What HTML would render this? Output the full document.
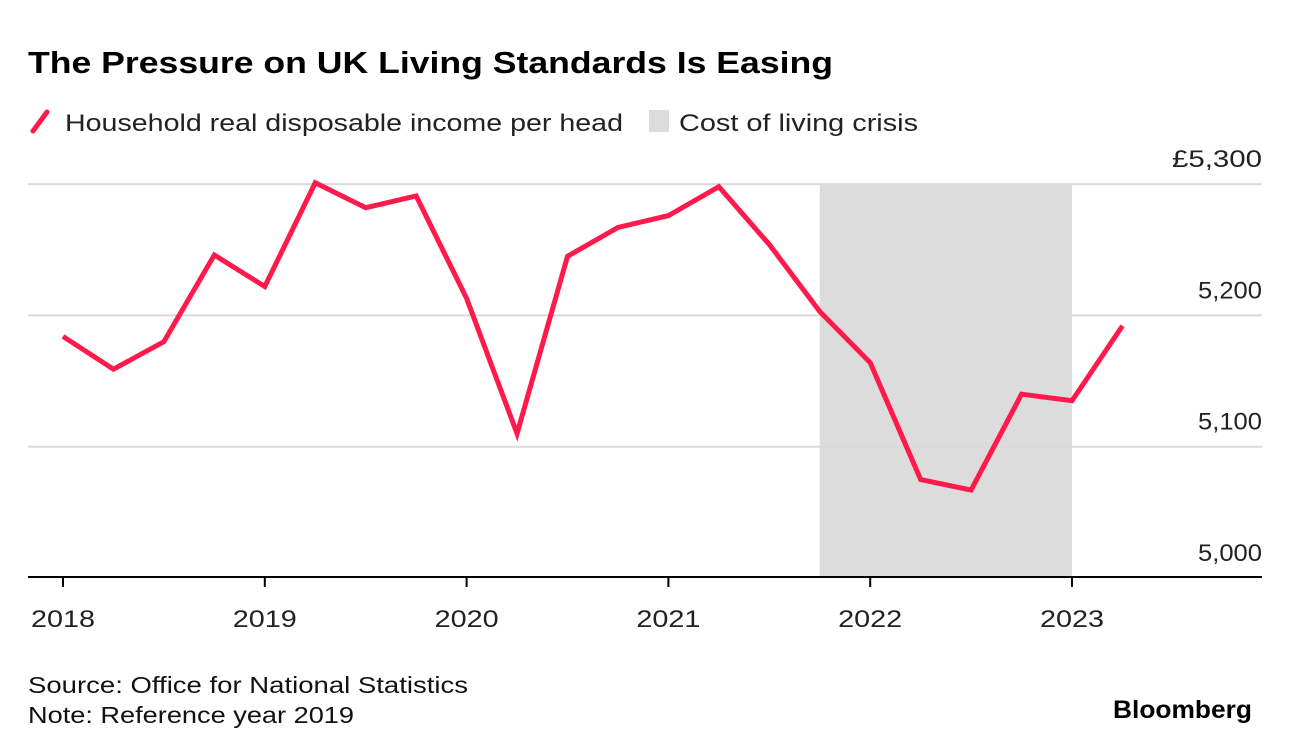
<!DOCTYPE html>
<html><head><meta charset="utf-8"><style>
body{margin:0;background:#fff;width:1292px;height:754px;overflow:hidden;font-family:"Liberation Sans",Arial,sans-serif}
svg{display:block}
</style></head><body>
<svg id="c" width="1292" height="754">
<text x="28" y="73" font-size="31" font-weight="bold" fill="#000" textLength="805" lengthAdjust="spacingAndGlyphs">The Pressure on UK Living Standards Is Easing</text>
<g>
<line x1="33" y1="131" x2="47" y2="112" stroke="#ff1a4b" stroke-width="5" stroke-linecap="round"/>
<text x="65" y="131" font-size="24" fill="#222" textLength="558" lengthAdjust="spacingAndGlyphs">Household real disposable income per head</text>
<rect x="649" y="110" width="20" height="22" fill="#dcdcdc"/>
<text x="679" y="131" font-size="24" fill="#222" textLength="239" lengthAdjust="spacingAndGlyphs">Cost of living crisis</text>
</g>
<g id="plot"></g>
<text x="28" y="693" font-size="23" fill="#111" textLength="440" lengthAdjust="spacingAndGlyphs">Source: Office for National Statistics</text>
<text x="28" y="723" font-size="23" fill="#111" textLength="326" lengthAdjust="spacingAndGlyphs">Note: Reference year 2019</text>
<text x="1252" y="718" font-size="25" font-weight="bold" text-anchor="end" fill="#000" textLength="139" lengthAdjust="spacingAndGlyphs">Bloomberg</text>
</svg>
<script>
const values=[5184,5159,5180,5246,5222,5301,5282,5291,5213,5110,5245,5267,5276,5298,5254,5203,5164,5075,5067,5140,5135,5192];
const yTicks=[5000,5100,5200,5300];
const yLabels=["5,000","5,100","5,200","£5,300"];
const years=[2018,2019,2020,2021,2022,2023];
const crisis=[2021.75,2023];
const NS="http://www.w3.org/2000/svg";
const g=document.getElementById('plot');
const x=t=>63+(t-2018)*201.8;
const y=v=>578-(v-5000)*1.313;
function mk(tag,a){const e=document.createElementNS(NS,tag);for(const k in a)e.setAttribute(k,a[k]);g.appendChild(e);return e;}
let r=mk('rect',{x:x(crisis[0]),y:y(5300),width:x(crisis[1])-x(crisis[0]),height:y(5000)-y(5300),fill:'#dcdcdc'});


yTicks.forEach((v,i)=>{
 if(i>0){const l=mk('line',{x1:28,x2:1262,y1:y(v),y2:y(v),stroke:'#dadada','stroke-width':2});
 
 }
 const lbl=yLabels[i];
 const t=mk('text',{x:1262,y:y(v)-17,'font-size':24,'text-anchor':'end',fill:'#222',textLength:lbl.length>5?90:64,lengthAdjust:'spacingAndGlyphs'});
 t.textContent=lbl;
 
 
});
const b=mk('line',{x1:28,x2:1262,y1:577,y2:577,stroke:'#000','stroke-width':2});


years.forEach(yr=>{
 const tk=mk('line',{x1:x(yr),x2:x(yr),y1:577,y2:587,stroke:'#000','stroke-width':2});
 
 
 const t=mk('text',{x:x(yr)-32,y:627,'font-size':24,fill:'#222',textLength:64,lengthAdjust:'spacingAndGlyphs'});
 t.textContent=yr;
 
 
});
const pts=values.map((v,i)=>x(2018+i/4)+','+y(v)).join(' ');
const pl=mk('polyline',{points:pts,fill:'none',stroke:'#ff1a4b','stroke-width':5,'stroke-linejoin':'miter'});


</script>
</body></html>
